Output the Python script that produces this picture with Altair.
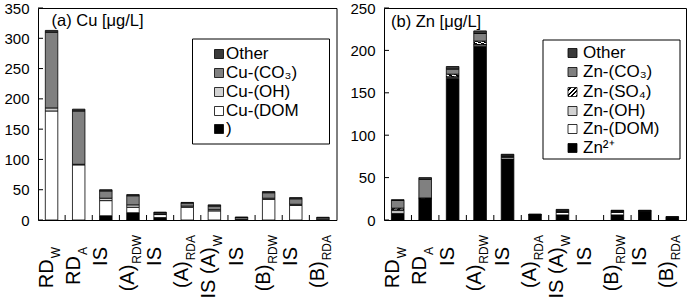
import altair as alt
import pandas as pd

FONT = "Liberation Sans"

# Category labels, one per bar: main text and its subscript
label_main = ["RD", "RD", "IS", "(A)", "IS", "(A)", "IS (A)", "IS", "(B)", "IS", "(B)"]
label_sub = ["W", "A", "", "RDW", "", "RDA", "W", "", "RDW", "", "RDA"]

# Cu speciation [µg/L], listed from the bottom of each stack upwards
cu_free = [0, 0, 7, 12, 4, 0, 0, 0, 0, 0, 0]
cu_dom = [180, 91, 25, 9, 5, 21, 15, 1, 34, 24, 0.5]
cu_oh = [5, 1, 4, 4, 1, 2, 2, 0, 2, 2, 0]
cu_co3 = [125, 88, 12, 15, 2, 5, 6, 3, 9, 9, 3]
cu_other = [3, 3, 2, 2, 1, 1, 2, 1, 2, 2, 1]
cu_legend = ["Other", "Cu-(CO₃)", "Cu-(OH)", "Cu-(DOM", ")"]

# Zn speciation [µg/L], listed from the bottom of each stack upwards
zn_free = [8, 25, 167, 205, 72, 6, 6, 0, 6, 10.5, 3]
zn_dom = [3, 0.5, 1.5, 1.5, 2, 0, 3, 0, 3, 0, 0]
zn_oh = [1, 0, 0.5, 0.5, 0.5, 0, 0.5, 0, 0.5, 0, 0]
zn_so4 = [2, 0.5, 3, 4, 0.5, 0, 0.5, 0, 0.5, 0, 0]
zn_co3 = [9, 22, 6, 9, 1.5, 0.5, 1.5, 0, 1, 0.5, 0.5]
zn_other = [1, 2, 3, 3, 1, 0.5, 1, 0, 0.5, 0.5, 0.5]
zn_legend = ["Other", "Zn-(CO₃)", "Zn-(SO₄)", "Zn-(OH)", "Zn-(DOM)", "Zn²⁺"]

# Fill styles
hatch_stops = []
for k in range(4):
    a, b, c = k / 4, k / 4 + 0.13, (k + 1) / 4
    hatch_stops += [{"offset": a, "color": "white"}, {"offset": b, "color": "white"},
                    {"offset": b, "color": "black"}, {"offset": c, "color": "black"}]
HATCH = {"gradient": "linear", "x1": 0, "y1": 0, "x2": 1, "y2": 1, "stops": hatch_stops}
FILL_FREE = "black"
FILL_DOM = "white"
FILL_OH = "#d2d2d2"
FILL_CO3 = "#808080"
FILL_OTHER = "#3a3a3a"

MAIN_SIZE = 20
SUB_SIZE = 12
SUB_GAP = 1
ARIAL_W = {"W": 0.944, "A": 0.667, "R": 0.722, "D": 0.722}

N = len(label_main)


def stack_frame(series):
    rows = []
    for i in range(N):
        base = 0.0
        for name, vals in series:
            v = vals[i]
            if v > 0:
                rows.append({"species": name, "x0": i + 0.27, "x1": i + 0.73,
                             "y0": base, "y1": base + v})
            base += v
    return pd.DataFrame(rows)


def label_frame(top_long, top_short):
    rows = []
    for i, (m, s) in enumerate(zip(label_main, label_sub)):
        top = top_long if len(m) + len(s) >= 5 else top_short
        sub_len = sum(ARIAL_W.get(ch, 0.6) for ch in s) * SUB_SIZE + (SUB_GAP if s else 0)
        rows.append({"xc": i + 0.5, "main": m, "sub": s,
                     "y_sub": top, "y_main": top + sub_len})
    return pd.DataFrame(rows)


def panel(title, series, fills, legend_labels, legend_fills, ymax, W, H,
          title_xy, box, rows_y, swatch_x, text_x):
    xs = alt.Scale(domain=[0, N], nice=False, zero=False)
    ys = alt.Scale(domain=[0, ymax], nice=False)
    df = stack_frame(series)
    layers = []

    # y axis labels; the same axis spec on every layer that uses the y scale
    tick_vals = list(range(0, ymax + 1, 50))
    yaxis = alt.Axis(values=tick_vals, ticks=False, domain=False, grid=False, title=None,
                     labelFont=FONT, labelFontSize=15, labelColor="black", labelPadding=9)
    # inward ticks on the value axis
    layers.append(
        alt.Chart(pd.DataFrame({"v": tick_vals})).mark_rule(color="black", strokeWidth=1)
        .encode(y=alt.Y("v:Q", scale=ys, axis=yaxis), x=alt.value(0), x2=alt.value(5))
    )
    # category boundary ticks along the baseline
    layers.append(
        alt.Chart(pd.DataFrame({"b": list(range(1, N))})).mark_rule(color="black", strokeWidth=1)
        .encode(x=alt.X("b:Q", scale=xs, axis=None), y=alt.value(H), y2=alt.value(H - 5))
    )
    # stacked bars, one layer per species
    for (name, _), fill in zip(series, fills):
        part = df[df["species"] == name]
        if part.empty:
            continue
        layers.append(
            alt.Chart(part).mark_bar(fill=fill, stroke="black", strokeWidth=0.8)
            .encode(x=alt.X("x0:Q", scale=xs, axis=None), x2="x1",
                    y=alt.Y("y1:Q", scale=ys, axis=yaxis), y2="y0")
        )
    # rotated category labels with subscripts
    lab = label_frame(227, 239)
    layers.append(
        alt.Chart(lab).mark_text(angle=270, align="right", baseline="middle", dy=-5,
                                 font=FONT, fontSize=MAIN_SIZE, color="black")
        .encode(x=alt.X("xc:Q", scale=xs, axis=None), y=alt.Y("y_main:Q", scale=None),
                text="main:N")
    )
    layers.append(
        alt.Chart(lab[lab["sub"] != ""]).mark_text(angle=270, align="right", baseline="middle",
                                                   dy=4, font=FONT, fontSize=SUB_SIZE,
                                                   color="black")
        .encode(x=alt.X("xc:Q", scale=xs, axis=None), y=alt.Y("y_sub:Q", scale=None),
                text="sub:N")
    )
    # panel title
    layers.append(
        alt.Chart(pd.DataFrame({"t": [title]})).mark_text(align="left", baseline="middle",
                                                          font=FONT, fontSize=16.5,
                                                          color="black")
        .encode(x=alt.value(title_xy[0]), y=alt.value(title_xy[1]), text="t:N")
    )
    # legend box
    layers.append(
        alt.Chart(pd.DataFrame({"a": [0]})).mark_rect(fill="white", stroke="black", strokeWidth=1)
        .encode(x=alt.value(box[0]), x2=alt.value(box[1]), y=alt.value(box[2]),
                y2=alt.value(box[3]))
    )
    leg = pd.DataFrame({"label": legend_labels, "ry": rows_y})
    leg["r0"] = leg["ry"] - 4.5
    leg["r1"] = leg["ry"] + 4.5
    for k, fill in enumerate(legend_fills):
        layers.append(
            alt.Chart(leg.iloc[[k]]).mark_rect(fill=fill, stroke="black", strokeWidth=0.8)
            .encode(x=alt.value(swatch_x), x2=alt.value(swatch_x + 9),
                    y=alt.Y("r0:Q", scale=None), y2="r1:Q")
        )
    layers.append(
        alt.Chart(leg).mark_text(align="left", baseline="middle", font=FONT, fontSize=17,
                                 color="black")
        .encode(x=alt.value(text_x), y=alt.Y("ry:Q", scale=None), text="label:N")
    )
    return alt.layer(*layers).properties(width=W, height=H)


cu_series = [("free", cu_free), ("DOM", cu_dom), ("OH", cu_oh), ("CO3", cu_co3),
             ("Other", cu_other)]
cu_fills = [FILL_FREE, FILL_DOM, FILL_OH, FILL_CO3, FILL_OTHER]
left = panel("(a) Cu [μg/L]", cu_series, cu_fills, cu_legend,
             [FILL_OTHER, FILL_CO3, FILL_OH, FILL_DOM, FILL_FREE],
             350, 298.5, 212, (13.5, 13), (154.5, 291.5, 31, 136),
             [46, 65, 84, 103, 121], 176.5, 188)

zn_series = [("free", zn_free), ("DOM", zn_dom), ("OH", zn_oh), ("SO4", zn_so4),
             ("CO3", zn_co3), ("Other", zn_other)]
zn_fills = [FILL_FREE, FILL_DOM, FILL_OH, HATCH, FILL_CO3, FILL_OTHER]
right = panel("(b) Zn [μg/L]", zn_series, zn_fills, zn_legend,
              [FILL_OTHER, FILL_CO3, HATCH, FILL_OH, FILL_DOM, FILL_FREE],
              250, 302, 212, (7, 13.5), (159, 296, 32, 151),
              [45, 64, 84, 103, 121, 140], 184, 199)

chart = (
    alt.hconcat(left, right, spacing=12)
    .properties(padding={"left": 3, "top": 0, "right": 0, "bottom": 0})
    .configure_view(stroke="black", strokeWidth=1)
)

chart.save("out.html", embed_options={"renderer": "svg", "actions": False})
